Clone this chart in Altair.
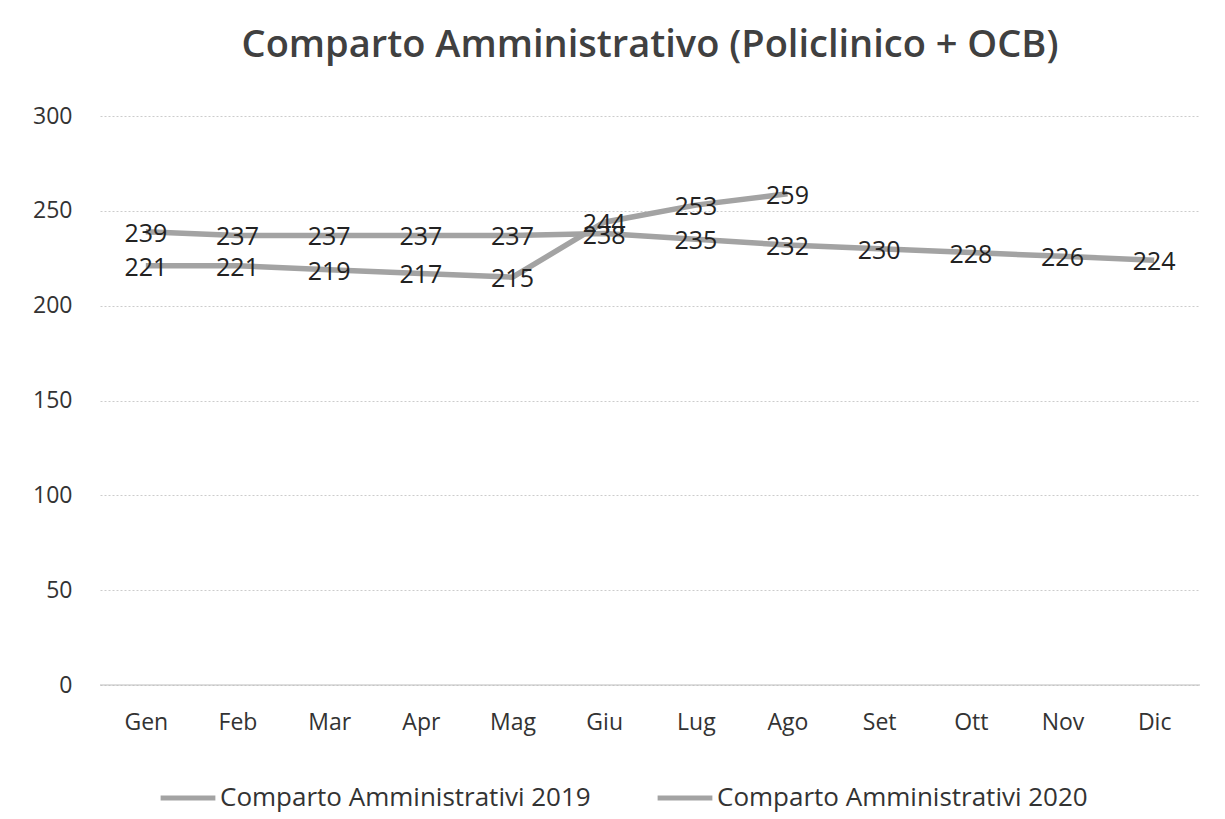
import altair as alt
import pandas as pd

months = ["Gen", "Feb", "Mar", "Apr", "Mag", "Giu", "Lug", "Ago", "Set", "Ott", "Nov", "Dic"]
s2019 = [239, 237, 237, 237, 237, 238, 235, 232, 230, 228, 226, 224]
s2020 = [221, 221, 219, 217, 215, 244, 253, 259]
names = ["Comparto Amministrativi 2019", "Comparto Amministrativi 2020"]

rows = []
for m, v in zip(months, s2019):
    rows.append({"mese": m, "valore": v, "serie": names[0]})
for m, v in zip(months, s2020):
    rows.append({"mese": m, "valore": v, "serie": names[1]})
df = pd.DataFrame(rows)

FONT = "Open Sans"

x = alt.X("mese:N", sort=months, scale=alt.Scale(domain=months, type="point", padding=0.5),
          axis=alt.Axis(title=None, labelAngle=0, labelFontSize=23, labelPadding=26,
                        labelColor="#333333", ticks=False, domain=False, grid=False,
                        labelFont=FONT))
y = alt.Y("valore:Q", scale=alt.Scale(domain=[0, 300]),
          axis=alt.Axis(title=None, values=[0, 50, 100, 150, 200, 250, 300], labelFontSize=23,
                        labelPadding=28, labelColor="#333333", ticks=False, domain=False,
                        gridColor="#cccccc", gridDash=[2, 2], gridWidth=1, labelFont=FONT))

color = alt.Color("serie:N", scale=alt.Scale(domain=names, range=["#a3a3a3", "#a3a3a3"]),
                  legend=alt.Legend(title=None, orient="none", legendX=58, legendY=652,
                                    direction="horizontal", symbolType="stroke",
                                    symbolSize=3000, symbolStrokeWidth=5, labelFontSize=26,
                                    labelFont=FONT, labelColor="#333333", columnPadding=56,
                                    labelOffset=2, labelLimit=600))

base = alt.Chart(df)
lines = base.mark_line(strokeWidth=5.5).encode(x=x, y=y, color=color, detail="serie:N")
labels = base.mark_text(fontSize=25, font=FONT, color="#222222", dy=2).encode(
    x=x, y=y, text="valore:Q")
zero = alt.Chart(pd.DataFrame({"v": [0]})).mark_rule(color="#bdbdbd", strokeWidth=1).encode(y="v:Q")

chart = alt.layer(zero, lines, labels).properties(
    width=1100, height=569,
    title=alt.TitleParams("Comparto Amministrativo (Policlinico + OCB)", fontSize=38,
                          font=FONT, fontWeight=600, color="#404040", offset=40),
    autosize=alt.AutoSizeParams(type="none"),
    padding={"left": 92, "top": 108, "right": 17, "bottom": 132},
).configure(background="white").configure_view(strokeWidth=0)

chart.save("out.html", embed_options={"renderer": "svg", "actions": False})
